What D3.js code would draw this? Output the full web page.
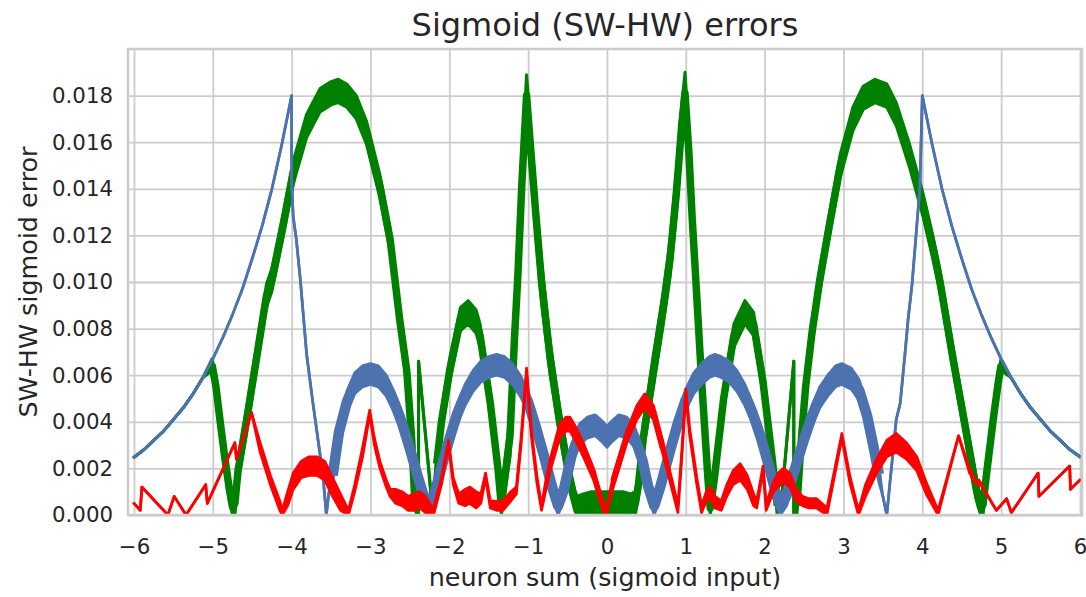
<!DOCTYPE html>
<html>
<head>
<meta charset="utf-8">
<script src="https://cdn.jsdelivr.net/npm/d3@7"></script>
<style>
  html, body { margin: 0; padding: 0; background: #fff; }
  svg { display: block; font-family: "DejaVu Sans", sans-serif; }
</style>
</head>
<body>
<svg id="chart" width="1086" height="597"></svg>
<script>
// Sigmoid approximation error: |software sigmoid - hardware sigmoid| over the neuron input.
// Each point is [x, lo, hi]: lo/hi bound the rapidly alternating (quantised) error band;
// where the error is a clean curve lo equals hi.

const xTicks = [-6, -5, -4, -3, -2, -1, 0, 1, 2, 3, 4, 5, 6];
const yTicks = [0, 0.002, 0.004, 0.006, 0.008, 0.010, 0.012, 0.014, 0.016, 0.018];

const greenErr = [
  [-6.00, .00248, .00248], [-5.875, .0028, .0028], [-5.75, .0032, .0032], [-5.625, .0036, .0036],
  [-5.50, .0041, .0041], [-5.375, .0046, .0046], [-5.25, .0052, .0052], [-5.125, .0059, .0059],
  [-5.01, .0062, .0067], [-4.96, .0050, .0060], [-4.91, .0036, .0046], [-4.85, .0020, .0030],
  [-4.79, .0006, .0016], [-4.75, .0000, .0007], [-4.72, .0000, .0010], [-4.68, .0014, .0024],
  [-4.57, .0036, .0046], [-4.49, .0053, .0063], [-4.40, .0072, .0082], [-4.32, .0089, .0099],
  [-4.25, .0096, .0106], [-4.11, .0119, .0129], [-3.98, .0142, .0152], [-3.81, .0162, .0172],
  [-3.64, .0173, .0183], [-3.50, .0176, .0186], [-3.41, .0177, .0187], [-3.30, .0175, .0185],
  [-3.18, .0170, .0180], [-3.05, .0159, .0169], [-2.88, .0136, .0146], [-2.75, .0113, .0123],
  [-2.63, .0079, .0089], [-2.54, .0057, .0067], [-2.48, .0029, .0039], [-2.44, .0003, .0013],
  [-2.41, .0000, .0003], [-2.39, .0000, .0000], [-2.39, .0066, .0066], [-2.21, .0000, .0002],
  [-2.16, .0017, .0027], [-2.10, .0035, .0045], [-1.99, .0058, .0068], [-1.86, .0079, .0089],
  [-1.76, .0082, .0092], [-1.66, .0078, .0088], [-1.61, .0072, .0082], [-1.48, .0043, .0053],
  [-1.38, .0014, .0024], [-1.34, .0000, .0008], [-1.23, .0025, .0043], [-1.17, .0069, .0087],
  [-1.13, .0094, .0112], [-1.08, .0133, .0151], [-1.02, .0171, .0189], [-0.97, .0149, .0167],
  [-0.90, .0119, .0137], [-0.83, .0091, .0109], [-0.72, .0060, .0074], [-0.60, .0034, .0046],
  [-0.47, .0010, .0020], [-0.41, .0002, .0011], [-0.38, .0000, .0008], [-0.30, .0000, .0009],
  [-0.20, .0000, .0010], [-0.10, .0000, .0010], [0.00, .0000, .0010], [0.10, .0000, .0010],
  [0.20, .0000, .0010], [0.30, .0000, .0009], [0.36, .0000, .0010], [0.40, .0008, .0018],
  [0.46, .0027, .0039], [0.59, .0055, .0069], [0.71, .0081, .0095], [0.80, .0102, .0118],
  [0.88, .0129, .0147], [0.95, .0159, .0177], [0.99, .0172, .0190], [1.04, .0146, .0164],
  [1.08, .0119, .0137], [1.12, .0096, .0114], [1.20, .0050, .0066], [1.28, .0010, .0022],
  [1.31, .0000, .0006], [1.36, .0010, .0020], [1.48, .0045, .0055], [1.61, .0072, .0082],
  [1.75, .0082, .0092], [1.86, .0077, .0087], [1.98, .0052, .0062], [2.10, .0018, .0028],
  [2.16, .0000, .0008], [2.20, .0000, .0001], [2.37, .0066, .0066], [2.37, .0000, .0000],
  [2.41, .0000, .0008], [2.46, .0025, .0035], [2.52, .0050, .0060], [2.60, .0073, .0083],
  [2.70, .0096, .0106], [2.83, .0121, .0131], [2.96, .0145, .0155], [3.12, .0165, .0175],
  [3.25, .0174, .0184], [3.40, .0177, .0187], [3.55, .0175, .0185], [3.67, .0167, .0177],
  [3.84, .0149, .0159], [4.01, .0128, .0138], [4.14, .0109, .0119], [4.22, .0096, .0106],
  [4.39, .0062, .0072], [4.56, .0030, .0040], [4.68, .0007, .0017], [4.74, .0000, .0007],
  [4.77, .0000, .0009], [4.82, .0014, .0024], [4.90, .0036, .0046], [4.96, .0051, .0061],
  [5.00, .0062, .0067], [5.125, .0059, .0059], [5.25, .0052, .0052], [5.375, .0046, .0046],
  [5.50, .0041, .0041], [5.625, .0036, .0036], [5.75, .0032, .0032], [5.875, .0028, .0028],
  [6.00, .0025, .0025]
];

const blueErr = [
  [-6.00, .00248, .00248], [-5.875, .0028, .0028], [-5.75, .0032, .0032], [-5.625, .0036, .0036],
  [-5.50, .0041, .0041], [-5.375, .0046, .0046], [-5.25, .0052, .0052], [-5.125, .0059, .0059],
  [-5.00, .0067, .0067], [-4.875, .0076, .0076], [-4.75, .0086, .0086], [-4.625, .0097, .0097],
  [-4.50, .0110, .0110], [-4.375, .0124, .0124], [-4.25, .0140, .0140], [-4.125, .0159, .0159],
  [-4.00, .0180, .0180], [-4.00, .0143, .0143], [-3.98, .0128, .0128], [-3.94, .0118, .0118],
  [-3.89, .0101, .0101], [-3.85, .0085, .0085], [-3.81, .0069, .0069], [-3.73, .0048, .0048],
  [-3.66, .0031, .0031], [-3.60, .0016, .0016], [-3.56, .0000, .0000], [-3.53, .0009, .0009],
  [-3.48, .0014, .0020], [-3.40, .0031, .0040], [-3.30, .0044, .0053], [-3.20, .0052, .0061],
  [-3.10, .0055, .0064], [-3.00, .0056, .0065], [-2.90, .0055, .0064], [-2.80, .0051, .0060],
  [-2.70, .0044, .0053], [-2.60, .0035, .0044], [-2.50, .0024, .0033], [-2.40, .0012, .0021],
  [-2.30, .0001, .0010], [-2.25, .0000, .0008], [-2.20, .0003, .0012], [-2.10, .0016, .0025],
  [-2.00, .0028, .0037], [-1.90, .0039, .0048], [-1.80, .0047, .0056], [-1.70, .0053, .0062],
  [-1.60, .0057, .0066], [-1.50, .0059, .0068], [-1.40, .0060, .0069], [-1.30, .0059, .0068],
  [-1.20, .0056, .0065], [-1.10, .0051, .0060], [-1.00, .0044, .0053], [-0.90, .0033, .0042],
  [-0.80, .0021, .0030], [-0.70, .0008, .0017], [-0.62, .0000, .0008], [-0.55, .0006, .0015],
  [-0.45, .0021, .0030], [-0.35, .0030, .0039], [-0.25, .0033, .0042], [-0.15, .0034, .0043],
  [-0.05, .0031, .0040], [0.00, .0029, .0038], [0.05, .0031, .0040], [0.15, .0034, .0043],
  [0.25, .0033, .0042], [0.35, .0029, .0038], [0.45, .0019, .0028], [0.52, .0008, .0017],
  [0.60, .0000, .0008], [0.68, .0008, .0017], [0.80, .0023, .0032], [0.90, .0035, .0044],
  [1.00, .0045, .0054], [1.10, .0052, .0061], [1.20, .0056, .0065], [1.30, .0059, .0068],
  [1.37, .0060, .0069], [1.45, .0059, .0068], [1.55, .0057, .0066], [1.65, .0053, .0062],
  [1.75, .0047, .0056], [1.85, .0039, .0048], [1.95, .0029, .0038], [2.05, .0017, .0026],
  [2.15, .0004, .0013], [2.20, .0000, .0008], [2.28, .0004, .0013], [2.40, .0017, .0026],
  [2.50, .0028, .0037], [2.60, .0038, .0047], [2.70, .0046, .0055], [2.80, .0051, .0060],
  [2.90, .0055, .0064], [2.98, .0056, .0065], [3.10, .0054, .0063], [3.20, .0049, .0058],
  [3.30, .0038, .0047], [3.38, .0025, .0034], [3.45, .0014, .0021], [3.50, .0008, .0008],
  [3.55, .0000, .0000], [3.59, .0014, .0014], [3.67, .0041, .0041], [3.72, .0048, .0048],
  [3.78, .0069, .0069], [3.82, .0084, .0084], [3.87, .0099, .0099], [3.93, .0124, .0124],
  [3.97, .0141, .0141], [4.00, .0180, .0180], [4.125, .0159, .0159], [4.25, .0140, .0140],
  [4.375, .0124, .0124], [4.50, .0110, .0110], [4.625, .0097, .0097], [4.75, .0086, .0086],
  [4.875, .0076, .0076], [5.00, .0067, .0067], [5.125, .0059, .0059], [5.25, .0052, .0052],
  [5.375, .0046, .0046], [5.50, .0041, .0041], [5.625, .0036, .0036], [5.75, .0032, .0032],
  [5.875, .0028, .0028], [6.00, .0025, .0025]
];

const redErr = [
  [-6.00, .0005, .0005], [-5.92, .0002, .0002], [-5.90, .0012, .0012], [-5.57, .0000, .0000],
  [-5.49, .0008, .0008], [-5.34, .0000, .0000], [-5.09, .0013, .0013], [-5.07, .0005, .0005],
  [-4.72, .0031, .0031], [-4.70, .0024, .0024], [-4.51, .0044, .0044], [-4.40, .0027, .0031],
  [-4.27, .0013, .0017], [-4.15, .0002, .0006], [-4.12, .0000, .0002], [-4.05, .0004, .0010],
  [-3.98, .0011, .0018], [-3.88, .0016, .0023], [-3.78, .0017, .0025], [-3.68, .0017, .0025],
  [-3.58, .0015, .0023], [-3.48, .0008, .0016], [-3.38, .0002, .0009], [-3.28, .0000, .0002],
  [-3.20, .0010, .0013], [-3.10, .0025, .0029], [-3.01, .0043, .0045], [-2.95, .0030, .0033],
  [-2.88, .0020, .0023], [-2.80, .0012, .0015], [-2.75, .0008, .0011], [-2.68, .0005, .0011],
  [-2.60, .0004, .0010], [-2.52, .0002, .0008], [-2.45, .0002, .0009], [-2.38, .0003, .0010],
  [-2.30, .0001, .0008], [-2.25, .0000, .0005], [-2.20, .0000, .0003], [-2.10, .0013, .0016],
  [-2.01, .0030, .0032], [-1.95, .0013, .0016], [-1.88, .0005, .0009], [-1.80, .0004, .0011],
  [-1.74, .0005, .0012], [-1.66, .0003, .0010], [-1.60, .0005, .0009], [-1.54, .0016, .0018],
  [-1.48, .0003, .0006], [-1.40, .0002, .0006], [-1.32, .0002, .0006], [-1.22, .0006, .0010],
  [-1.15, .0009, .0012], [-1.09, .0030, .0033], [-1.02, .0061, .0063], [-0.96, .0034, .0037],
  [-0.89, .0014, .0017], [-0.83, .0002, .0004], [-0.78, .0010, .0014], [-0.72, .0019, .0024],
  [-0.60, .0033, .0039], [-0.52, .0036, .0042], [-0.47, .0036, .0042], [-0.40, .0032, .0038],
  [-0.30, .0025, .0031], [-0.17, .0015, .0020], [-0.06, .0003, .0007], [-0.01, .0000, .0002],
  [0.08, .0012, .0017], [0.25, .0031, .0036], [0.38, .0041, .0047], [0.48, .0046, .0052],
  [0.59, .0041, .0047], [0.71, .0026, .0031], [0.84, .0009, .0013], [0.90, .0001, .0004],
  [0.95, .0025, .0028], [1.00, .0052, .0054], [1.05, .0034, .0037], [1.14, .0013, .0016],
  [1.20, .0001, .0004], [1.26, .0006, .0010], [1.31, .0007, .0012], [1.37, .0003, .0008],
  [1.45, .0002, .0006], [1.52, .0008, .0013], [1.60, .0013, .0019], [1.69, .0015, .0022],
  [1.78, .0011, .0017], [1.86, .0004, .0009], [1.90, .0003, .0006], [1.98, .0019, .0021],
  [2.02, .0002, .0005], [2.11, .0010, .0014], [2.17, .0012, .0018], [2.24, .0014, .0020],
  [2.32, .0012, .0018], [2.40, .0006, .0011], [2.48, .0004, .0008], [2.56, .0003, .0007],
  [2.66, .0003, .0007], [2.79, .0000, .0003], [2.98, .0033, .0035], [3.08, .0014, .0017],
  [3.19, .0000, .0002], [3.28, .0008, .0013], [3.42, .0018, .0024], [3.55, .0025, .0032],
  [3.67, .0027, .0035], [3.80, .0024, .0031], [3.93, .0019, .0025], [4.05, .0009, .0014],
  [4.20, .0000, .0002], [4.46, .0034, .0034], [4.60, .0018, .0020], [4.69, .0013, .0014],
  [4.72, .0014, .0015], [4.94, .0002, .0002], [5.07, .0007, .0007], [5.13, .0001, .0001],
  [5.47, .0018, .0018], [5.48, .0008, .0008], [5.87, .0021, .0021], [5.88, .0011, .0011],
  [6.00, .0015, .0015]
];

// edge: stroke of the band borders and clean curves; core: stroke along the middle of the band
const seriesList = [
  { name: "green", color: "#008000", data: greenErr, edge: 3.0, core: 7.5 },
  { name: "blue",  color: "#4c72b0", data: blueErr,  edge: 2.7, core: 10.5 },
  { name: "red",   color: "#ff0000", data: redErr,   edge: 2.7, core: 6.0 }
];

const plot = { left: 128, right: 1082, top: 49, bottom: 515 };
const gridColor = "#cccccc";
const textColor = "#262626";

const svg = d3.select("#chart");

const x = d3.scaleLinear().domain([-6.076, 6.026]).range([plot.left, plot.right]);
const y = d3.scaleLinear().domain([0, 0.02]).range([plot.bottom, plot.top]);

// grid + tick labels
const xAxis = d3.axisBottom(x).tickValues(xTicks).tickFormat(d3.format("d"))
  .tickSize(-(plot.bottom - plot.top)).tickPadding(24);
const gx = svg.append("g").attr("transform", `translate(0,${plot.bottom})`).call(xAxis);
gx.select(".domain").remove();
gx.selectAll(".tick line").attr("stroke", gridColor).attr("stroke-width", 1.8);
gx.selectAll(".tick text").attr("fill", textColor).attr("font-size", 21.3)
  .attr("font-family", "DejaVu Sans, sans-serif");

const yAxis = d3.axisLeft(y).tickValues(yTicks).tickFormat(d3.format(".3f"))
  .tickSize(-(plot.right - plot.left)).tickPadding(15);
const gy = svg.append("g").attr("transform", `translate(${plot.left},0)`).call(yAxis);
gy.select(".domain").remove();
gy.selectAll(".tick line").attr("stroke", gridColor).attr("stroke-width", 1.8);
gy.selectAll(".tick text").attr("fill", textColor).attr("font-size", 21.3)
  .attr("font-family", "DejaVu Sans, sans-serif");

// clip region for the data
svg.append("clipPath").attr("id", "plotClip").append("rect")
  .attr("x", plot.left).attr("y", plot.top)
  .attr("width", plot.right - plot.left).attr("height", plot.bottom - plot.top);

const dataLayer = svg.append("g").attr("clip-path", "url(#plotClip)");

const band = d3.area().x(d => x(d[0])).y0(d => y(d[1])).y1(d => y(d[2]));
const loLine = d3.line().x(d => x(d[0])).y(d => y(d[1]));
const hiLine = d3.line().x(d => x(d[0])).y(d => y(d[2]));
// middle of the band, only where the band is actually spread out
const midLine = d3.line()
  .defined(d => d[2] - d[1] >= 0.0005)
  .x(d => x(d[0])).y(d => y((d[1] + d[2]) / 2));

seriesList.forEach(s => {
  const g = dataLayer.append("g").attr("class", "series-" + s.name);
  g.append("path").attr("d", band(s.data)).attr("fill", s.color).attr("stroke", "none");
  g.append("path").attr("d", midLine(s.data)).attr("fill", "none")
    .attr("stroke", s.color).attr("stroke-width", s.core)
    .attr("stroke-linejoin", "round").attr("stroke-linecap", "butt");
  [loLine, hiLine].forEach(gen => {
    g.append("path").attr("d", gen(s.data)).attr("fill", "none")
      .attr("stroke", s.color).attr("stroke-width", s.edge)
      .attr("stroke-linejoin", "round").attr("stroke-linecap", "round");
  });
});

// frame
svg.append("rect").attr("x", plot.left).attr("y", plot.top)
  .attr("width", plot.right - plot.left).attr("height", plot.bottom - plot.top)
  .attr("fill", "none").attr("stroke", gridColor).attr("stroke-width", 2.5);

// titles
svg.append("text").attr("x", (plot.left + plot.right) / 2).attr("y", 36)
  .attr("text-anchor", "middle").attr("font-size", 32).attr("fill", textColor)
  .text("Sigmoid (SW-HW) errors");

svg.append("text").attr("x", (plot.left + plot.right) / 2).attr("y", 586)
  .attr("text-anchor", "middle").attr("font-size", 25.4).attr("fill", textColor)
  .text("neuron sum (sigmoid input)");

svg.append("text").attr("transform", `translate(37,${(plot.top + plot.bottom) / 2}) rotate(-90)`)
  .attr("text-anchor", "middle").attr("font-size", 25.4).attr("fill", textColor)
  .text("SW-HW sigmoid error");
</script>
</body>
</html>
